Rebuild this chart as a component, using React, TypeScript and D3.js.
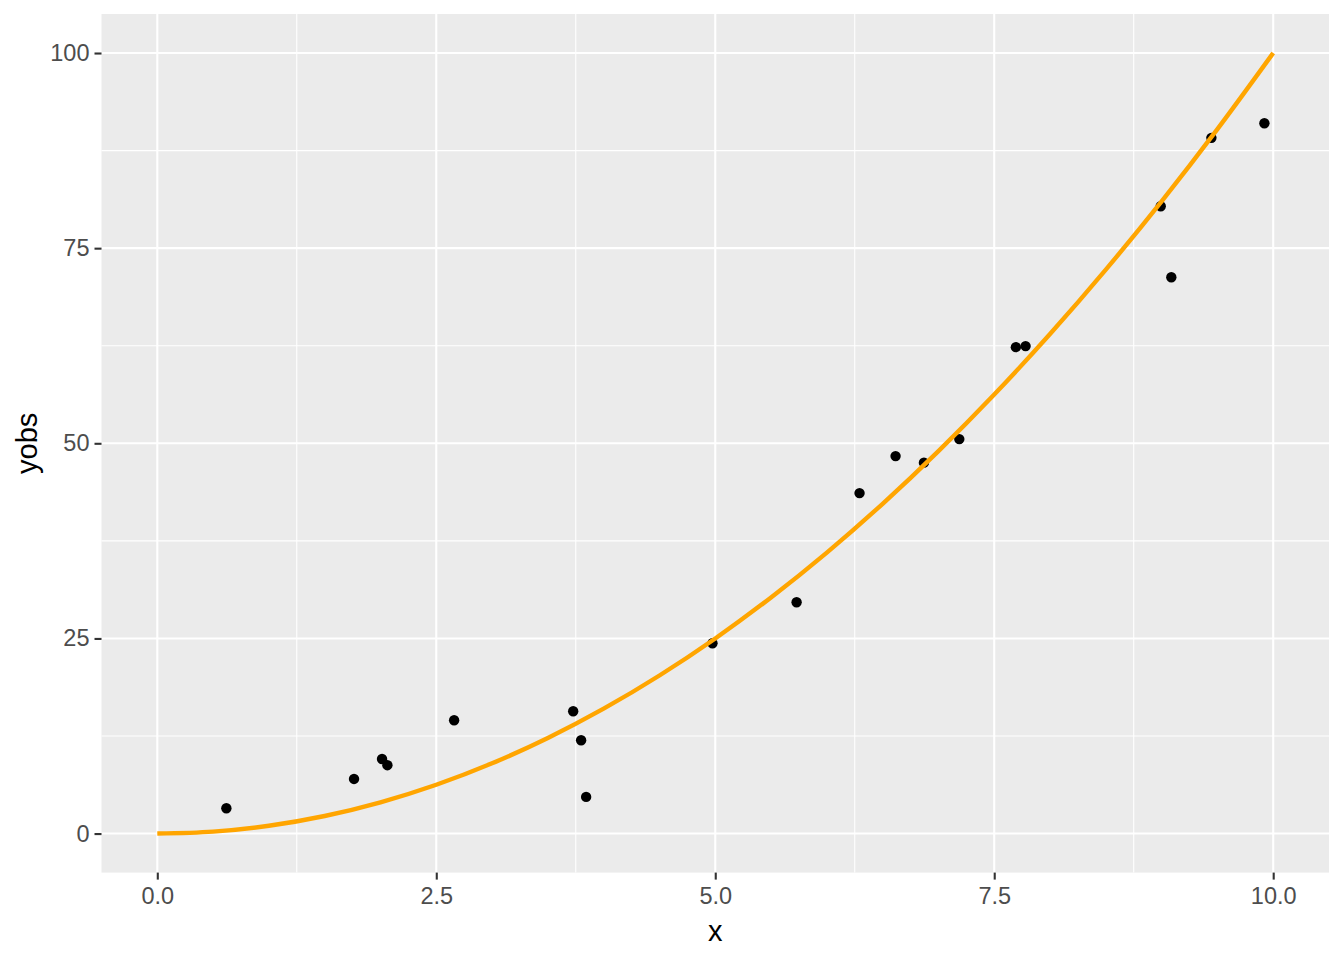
import React, { useEffect, useRef } from 'react';
import * as d3 from 'd3';

// observed points (x, yobs)
const obsX = [0.619, 1.763, 2.014, 2.062, 2.66, 3.727, 3.798, 3.843, 4.975, 5.729,
  6.293, 6.616, 6.87, 7.187, 7.694, 7.781, 8.992, 9.087, 9.446, 9.921];
const obsY = [3.25, 7.0, 9.56, 8.76, 14.52, 15.67, 11.96, 4.7, 24.38, 29.63,
  43.62, 48.36, 47.52, 50.54, 62.32, 62.45, 80.37, 71.28, 89.13, 91.0];

// fitted curve
const curveX = [0, 0.5, 1, 1.5, 2, 2.5, 3, 3.5, 4, 4.5, 5, 5.5, 6, 6.5, 7, 7.5, 8, 8.5, 9, 9.5, 10];
const curveY = [0, 0.25, 1, 2.25, 4, 6.25, 9, 12.25, 16, 20.25, 25, 30.25, 36, 42.25, 49, 56.25,
  64, 72.25, 81, 90.25, 100];

const xMajor = [0, 2.5, 5, 7.5, 10];
const xMinor = [1.25, 3.75, 6.25, 8.75];
const yMajor = [0, 25, 50, 75, 100];
const yMinor = [12.5, 37.5, 62.5, 87.5];

const App: React.FC = () => {
  const svgRef = useRef<SVGSVGElement>(null);

  useEffect(() => {
    if (!svgRef.current) return;
    const width = 1344;
    const height = 960;
    const panel = { left: 101.5, right: 1329, top: 14, bottom: 872.6 };

    const svg = d3.select(svgRef.current)
      .attr('width', width)
      .attr('height', height)
      .html('');

    svg.append('rect')
      .attr('width', width).attr('height', height).attr('fill', '#fff');

    const xScale = d3.scaleLinear().domain([-0.5, 10.5]).range([panel.left, panel.right]);
    const yScale = d3.scaleLinear().domain([-5, 105]).range([panel.bottom, panel.top]);

    // panel background
    svg.append('rect')
      .attr('x', panel.left)
      .attr('y', panel.top)
      .attr('width', panel.right - panel.left)
      .attr('height', panel.bottom - panel.top)
      .attr('fill', '#EBEBEB');

    const grid = svg.append('g').attr('stroke', '#fff');
    grid.selectAll('.xmin').data(xMinor).join('line')
      .attr('x1', d => xScale(d)).attr('x2', d => xScale(d))
      .attr('y1', panel.top).attr('y2', panel.bottom).attr('stroke-width', 1.1);
    grid.selectAll('.ymin').data(yMinor).join('line')
      .attr('y1', d => yScale(d)).attr('y2', d => yScale(d))
      .attr('x1', panel.left).attr('x2', panel.right).attr('stroke-width', 1.1);
    grid.selectAll('.xmaj').data(xMajor).join('line')
      .attr('x1', d => xScale(d)).attr('x2', d => xScale(d))
      .attr('y1', panel.top).attr('y2', panel.bottom).attr('stroke-width', 2.1);
    grid.selectAll('.ymaj').data(yMajor).join('line')
      .attr('y1', d => yScale(d)).attr('y2', d => yScale(d))
      .attr('x1', panel.left).attr('x2', panel.right).attr('stroke-width', 2.1);

    // points
    svg.append('g')
      .selectAll('circle')
      .data(obsX.map((x, i) => [x, obsY[i]]))
      .join('circle')
      .attr('cx', d => xScale(d[0]))
      .attr('cy', d => yScale(d[1]))
      .attr('r', 5.2)
      .attr('fill', '#000');

    // fitted curve
    const line = d3.line<number>()
      .x(d => xScale(curveX[d]))
      .y(d => yScale(curveY[d]))
      .curve(d3.curveMonotoneX);

    svg.append('path')
      .datum(d3.range(curveX.length))
      .attr('fill', 'none')
      .attr('stroke', '#FFA500')
      .attr('stroke-width', 4.4)
      .attr('d', line);

    // axes
    const font = 'Liberation Sans, Arial, sans-serif';
    const xAxis = d3.axisBottom(xScale).tickValues(xMajor).tickFormat(d3.format('.1f'))
      .tickSize(7).tickPadding(8);
    const yAxis = d3.axisLeft(yScale).tickValues(yMajor).tickFormat(d3.format('d'))
      .tickSize(7).tickPadding(5);

    const gx = svg.append('g')
      .attr('transform', `translate(0,${panel.bottom})`)
      .call(xAxis);
    const gy = svg.append('g')
      .attr('transform', `translate(${panel.left},0)`)
      .call(yAxis);

    [gx, gy].forEach(g => {
      g.select('.domain').remove();
      g.selectAll('line').attr('stroke', '#333333').attr('stroke-width', 2.1);
      g.selectAll('text')
        .attr('fill', '#4D4D4D')
        .style('font-family', font)
        .style('font-size', '23.5px');
    });

    svg.append('text')
      .attr('x', (panel.left + panel.right) / 2)
      .attr('y', 941)
      .attr('text-anchor', 'middle')
      .style('font-family', font)
      .style('font-size', '29px')
      .attr('fill', '#000')
      .text('x');

    svg.append('text')
      .attr('transform', `translate(37,${(panel.top + panel.bottom) / 2}) rotate(-90)`)
      .attr('text-anchor', 'middle')
      .style('font-family', font)
      .style('font-size', '29px')
      .attr('fill', '#000')
      .text('yobs');
  }, []);

  return (
    <svg ref={svgRef} style={{ position: 'absolute', left: 0, top: 0, display: 'block' }}></svg>
  );
};

export default App;
